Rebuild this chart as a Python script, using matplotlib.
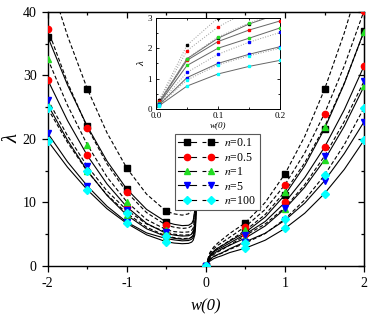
import matplotlib
matplotlib.use("Agg")
import matplotlib.pyplot as plt
from matplotlib.legend_handler import HandlerTuple
from matplotlib.lines import Line2D
from matplotlib.ticker import MultipleLocator, FormatStrFormatter

plt.rcParams["font.family"] = ["Liberation Serif", "DejaVu Serif"]
plt.rcParams["mathtext.fontset"] = "stix"
plt.rcParams["axes.unicode_minus"] = False

n_labels = ["0.1", "0.5", "1", "5", "100"]
colors = ["black", "red", "#22dd22", "blue", "cyan"]
markers = ["s", "o", "^", "v", "D"]

# left branch, w(0) < 0
x_left = [-2, -1.75, -1.5, -1.25, -1, -0.75, -0.5, -0.4, -0.3, -0.22, -0.18, -0.16, -0.14, -0.13, -0.12]
left_dashed = [
    [46, 36.25, 27.9, 20.95, 15.4, 11.3, 8.6, 8.2, 8.0, 8.2, 8.9, 10.2, 14.0, 16.5, 18],
    [37.3, 28.9, 21.8, 16.05, 11.6, 8.4, 6.4, 6.1, 5.9, 6.0, 6.3, 6.9, 8.6, 11.5, 16],
    [32.6, 25.3, 19.1, 14.0, 10.1, 7.3, 5.7, 5.4, 5.3, 5.35, 5.6, 6.0, 7.4, 9.5, 14],
    [26.2, 20.5, 15.7, 11.8, 8.8, 6.6, 5.3, 5.0, 4.85, 4.9, 5.1, 5.5, 6.6, 8.5, 12.5],
    [24.8, 19.45, 14.9, 11.2, 8.3, 6.1, 4.7, 4.45, 4.3, 4.35, 4.55, 4.9, 5.9, 7.6, 11],
]
left_solid = [
    [36.1, 28.5, 22.0, 16.5, 12.1, 8.9, 6.9, 6.55, 6.35, 6.4, 6.7, 7.2, 8.8, 11.5, 16],
    [29.3, 22.9, 17.4, 12.9, 9.3, 6.7, 5.1, 4.85, 4.7, 4.75, 5.0, 5.4, 6.5, 8.3, 12.5],
    [25.4, 19.8, 15.0, 11.1, 8.0, 5.85, 4.6, 4.35, 4.2, 4.25, 4.5, 4.85, 5.8, 7.4, 11],
    [20.9, 16.4, 12.6, 9.4, 6.9, 5.2, 4.3, 4.1, 3.95, 4.0, 4.2, 4.5, 5.4, 6.9, 10.5],
    [19.7, 15.55, 12.0, 9.0, 6.7, 4.9, 3.8, 3.6, 3.5, 3.55, 3.75, 4.05, 4.9, 6.3, 9.5],
]

# right branch, w(0) >= 0
x_right = [0, 0.005, 0.05, 0.1, 0.15, 0.2, 0.3, 0.5, 0.75, 1, 1.25, 1.5, 1.75, 2]
right_dashed = [
    [0, 0.28, 2.1, 3.0, 3.6, 4.1, 5.1, 6.8, 10.0, 14.5, 20.4, 27.8, 36.7, 47],
    [0, 0.25, 1.92, 2.7, 3.25, 3.65, 4.5, 6.2, 8.9, 12.8, 17.8, 24.0, 31.5, 40.2],
    [0, 0.2, 1.66, 2.37, 2.83, 3.2, 4.0, 5.6, 8.1, 11.7, 16.25, 21.9, 28.8, 36.9],
    [0, 0.15, 1.2, 1.8, 2.2, 2.52, 3.3, 4.8, 6.6, 9.2, 12.8, 17.3, 22.75, 29.1],
    [0, 0.12, 0.95, 1.45, 1.75, 2.0, 2.6, 3.6, 5.1, 7.4, 10.4, 14.3, 19.1, 24.9],
]
right_solid = [
    [0, 0.22, 1.65, 2.33, 2.8, 3.15, 3.9, 5.3, 7.7, 11.2, 15.8, 21.6, 28.7, 37.0],
    [0, 0.2, 1.6, 2.22, 2.6, 2.9, 3.6, 5.0, 7.0, 10.0, 13.9, 18.7, 24.6, 31.5],
    [0, 0.17, 1.43, 2.0, 2.33, 2.67, 3.25, 4.4, 6.3, 9.0, 12.4, 16.7, 22.0, 28.3],
    [0, 0.13, 1.03, 1.5, 1.8, 2.05, 2.7, 3.8, 5.15, 7.2, 9.9, 13.4, 17.7, 22.7],
    [0, 0.1, 0.75, 1.15, 1.4, 1.6, 2.1, 2.8, 4.05, 5.9, 8.3, 11.4, 15.2, 19.8],
]

mark_left = [0, 2, 4, 6]
mark_right = [0, 7, 9, 11, 13]
mark_inset = [1, 2, 3, 4, 5]

fig = plt.figure(figsize=(3.73, 3.2), dpi=100)
ax = fig.add_axes([0.128, 0.169, 0.848, 0.7935])

dash = (0, (3.5, 2))
for i in range(5):
    for xs, ys in ((x_left, left_dashed[i]), (x_right, right_dashed[i])):
        ax.plot(xs, ys, color="black", lw=0.8, linestyle=dash)
    for xs, ys in ((x_left, left_solid[i]), (x_right, right_solid[i])):
        ax.plot(xs, ys, color="black", lw=0.8)
for i in range(5):
    for ys_l, ys_r in ((left_dashed[i], right_dashed[i]), (left_solid[i], right_solid[i])):
        ax.plot([x_left[j] for j in mark_left], [ys_l[j] for j in mark_left],
                linestyle="none", marker=markers[i], color=colors[i], ms=4.5, zorder=3)
        ax.plot([x_right[j] for j in mark_right], [ys_r[j] for j in mark_right],
                linestyle="none", marker=markers[i], color=colors[i], ms=4.5, zorder=3)

ax.set_xlim(-2, 2)
ax.set_ylim(0, 40)
ax.xaxis.set_major_locator(MultipleLocator(1))
ax.xaxis.set_minor_locator(MultipleLocator(0.5))
ax.yaxis.set_major_locator(MultipleLocator(10))
ax.yaxis.set_minor_locator(MultipleLocator(5))
ax.tick_params(which="both", direction="out", labelsize=10, width=0.9)
ax.tick_params(which="major", length=4.5)
ax.tick_params(which="minor", length=2.5)
for s in ax.spines.values():
    s.set_linewidth(1.0)

top = ax.secondary_xaxis("top")
top.xaxis.set_major_locator(MultipleLocator(1))
top.xaxis.set_minor_locator(MultipleLocator(0.5))
top.tick_params(which="both", direction="in", labeltop=False, width=0.9)
top.tick_params(which="major", length=4.5)
top.tick_params(which="minor", length=2.5)
right = ax.secondary_yaxis("right")
right.yaxis.set_major_locator(MultipleLocator(10))
right.yaxis.set_minor_locator(MultipleLocator(5))
right.tick_params(which="both", direction="in", labelright=False, width=0.9)
right.tick_params(which="major", length=4.5)
right.tick_params(which="minor", length=2.5)

ax.set_xlabel("w(0)", fontstyle="italic", fontsize=12, labelpad=6)
ax.set_ylabel("λ", fontstyle="italic", fontsize=15, rotation=90, va="center")
ax.yaxis.set_label_coords(-0.11, 0.5)

handles = []
for i in range(5):
    h_solid = Line2D([], [], color="black", lw=0.8, marker=markers[i],
                     markerfacecolor=colors[i], markeredgecolor=colors[i], ms=4.5)
    h_dash = Line2D([], [], color="black", lw=0.8, linestyle=dash, marker=markers[i],
                    markerfacecolor=colors[i], markeredgecolor=colors[i], ms=4.5)
    handles.append((h_solid, h_dash))
leg = ax.legend(handles, ["$n$=" + s for s in n_labels],
                handler_map={tuple: HandlerTuple(ndivide=None, pad=0.5)},
                loc="upper left", bbox_to_anchor=(0.402, 0.52), borderaxespad=0,
                fontsize=8.5, handlelength=3.5, handletextpad=0.4,
                labelspacing=0.2, borderpad=0.3, numpoints=1,
                fancybox=False, framealpha=1, edgecolor="0.35")
leg.get_frame().set_linewidth(0.8)

# inset: zoom near w(0)=0
axin = fig.add_axes([0.418, 0.660, 0.333, 0.284])
for i in range(5):
    axin.plot(x_right, right_dashed[i], color="0.6", lw=0.7, linestyle=":")
    axin.plot(x_right, right_solid[i], color="0.4", lw=0.7)
for i in range(5):
    for ys in (right_dashed[i], right_solid[i]):
        axin.plot([x_right[j] for j in mark_inset], [ys[j] for j in mark_inset],
                  linestyle="none", marker="s", color=colors[i], ms=2, zorder=3)
axin.set_xlim(0, 0.2)
axin.set_ylim(0, 3)
axin.xaxis.set_major_locator(MultipleLocator(0.1))
axin.xaxis.set_minor_locator(MultipleLocator(0.05))
axin.xaxis.set_major_formatter(FormatStrFormatter("%.1f"))
axin.yaxis.set_major_locator(MultipleLocator(1))
axin.yaxis.set_minor_locator(MultipleLocator(0.5))
axin.tick_params(which="both", direction="in", top=True, right=True,
                 labelsize=6.5, width=0.6)
axin.tick_params(axis="x", pad=2)
axin.tick_params(axis="y", pad=3)
axin.tick_params(which="major", length=2.5)
axin.tick_params(which="minor", length=1.5)
for s in axin.spines.values():
    s.set_linewidth(0.7)
axin.set_xlabel("w(0)", fontstyle="italic", fontsize=6.5, labelpad=1)
axin.set_ylabel("λ", fontstyle="italic", fontsize=8, labelpad=1)

fig.savefig("out.png", dpi=100)
